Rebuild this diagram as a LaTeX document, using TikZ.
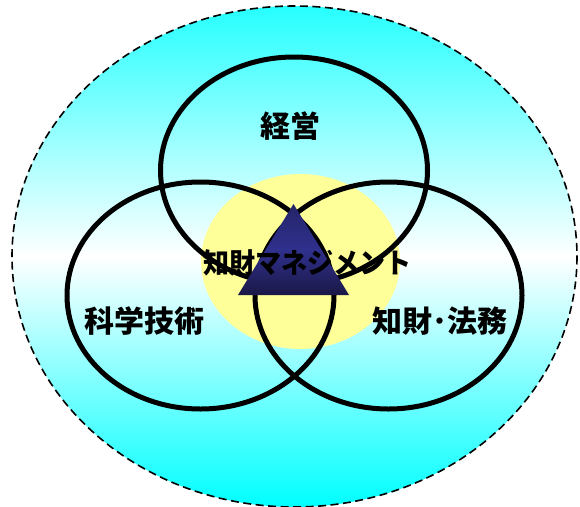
\documentclass[tikz,border=0pt]{standalone}
\usepackage{fontspec}
\newfontfamily\jp{Noto Sans CJK JP}
\definecolor{navytop}{RGB}{36,36,104}
\definecolor{navymid}{RGB}{48,48,142}
\definecolor{navybot}{RGB}{26,24,70}
\definecolor{paleyellow}{RGB}{255,255,153}
\tikzset{
  ring/.style={draw=black, line width=5pt},
  label/.style={font=\jp\bfseries\fontsize{30}{30}\selectfont, inner sep=0pt, text=black},
  centerlabel/.style={font=\jp\bfseries\fontsize{28}{28}\selectfont, inner sep=0pt, text=black, xscale=0.93}
}
\begin{document}
\begin{tikzpicture}[x=1pt,y=-1pt]
\useasboundingbox (0,0) rectangle (580,506);
% outer field
\shade[top color=cyan!85!white, bottom color=cyan, middle color=white]
  (294.5,256.5) ellipse [x radius=282.5, y radius=250.5];
\draw[black, line width=1.6pt, dash pattern=on 8pt off 4.5pt]
  (294.5,256.5) ellipse [x radius=282.5, y radius=250.5];
% yellow core
\fill[paleyellow] (300.5,261.5) ellipse [x radius=99.5, y radius=87.5];
% three rings
\draw[ring] (294,170.5) ellipse [x radius=133.5, y radius=113.5];
\draw[ring] (200.5,295.5) ellipse [x radius=133.5, y radius=113.5];
\draw[ring] (388.5,295.5) ellipse [x radius=133.5, y radius=113.5];
% triangle
\shade[top color=navytop, bottom color=navybot, middle color=navymid]
  (293.5,204) -- (349,295) -- (238,295) -- cycle;
% labels
\node[label] (keiei) at (290,126) {経営};
\node[label] (kagaku) at (144,321) {科学技術};
\node[label] (houmu) at (440,321) {知財･法務};
\node[centerlabel] (mgmt) at (307.5,263) {知財マネジメント};
\end{tikzpicture}
\end{document}
